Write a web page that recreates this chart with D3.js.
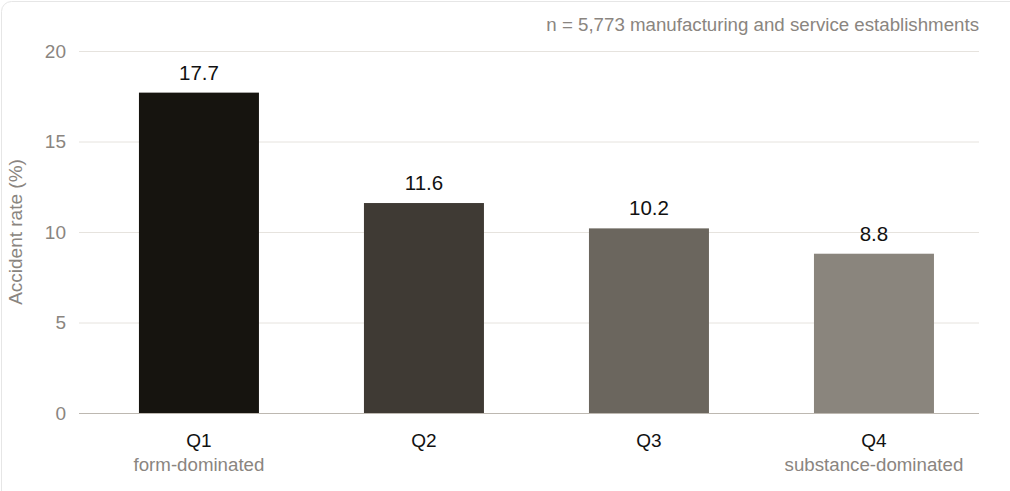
<!DOCTYPE html>
<html>
<head>
    <title>Accident rate by quartile</title>
    <script src="https://d3js.org/d3.v7.min.js"></script>
    <style>
        body { margin: 0; background: #fff; font-family: "Liberation Sans", Arial, sans-serif; }
    </style>
</head>
<body>
    <div id="chart"></div>

    <script>
        const categories = ["Q1", "Q2", "Q3", "Q4"];
        const subLabels = ["form-dominated", "", "", "substance-dominated"];
        const values = [17.7, 11.6, 10.2, 8.8];
        const barColors = ["#16140f", "#3f3a34", "#6b665e", "#8a857d"];
        const yTicks = [0, 5, 10, 15, 20];
        const note = "n = 5,773 manufacturing and service establishments";
        const yTitle = "Accident rate (%)";

        const width = 1010, height = 491;
        const margin = {top: 51, right: 31, bottom: 78, left: 79};

        const svg = d3.select("#chart").append("svg")
            .attr("width", width)
            .attr("height", height);

        // card outline (runs off the right and bottom edges)
        svg.append("rect")
            .attr("x", 1.5).attr("y", 1.5)
            .attr("width", width + 40).attr("height", height + 40)
            .attr("rx", 10)
            .attr("fill", "#fff")
            .attr("stroke", "#e6e6e6");

        const x = d3.scaleBand()
            .domain(categories)
            .range([margin.left, width - margin.right])
            .paddingInner(0.4667)
            .paddingOuter(0.2333)
            .align(0.571);

        const y = d3.scaleLinear()
            .domain([0, 20])
            .range([height - margin.bottom, margin.top]);

        // grid + y tick labels
        const yAxis = svg.append("g")
            .attr("transform", "translate(" + margin.left + ",0)")
            .call(d3.axisLeft(y).tickValues(yTicks)
                .tickSize(-(width - margin.left - margin.right))
                .tickPadding(13));
        yAxis.select(".domain").remove();
        yAxis.selectAll(".tick line")
            .attr("stroke", d => d === 0 ? "#bdb8b1" : "#e6e3de");
        yAxis.selectAll(".tick text")
            .attr("fill", "#8a8580")
            .style("font-size", "19px")
            .style("font-family", "Liberation Sans, Arial, sans-serif");

        svg.selectAll(".bar")
            .data(values)
            .join("rect")
              .attr("class", "bar")
              .attr("x", (d, i) => x(categories[i]))
              .attr("width", x.bandwidth())
              .attr("y", d => y(d))
              .attr("height", d => y(0) - y(d))
              .attr("fill", (d, i) => barColors[i]);

        // baseline on top of bars
        svg.append("line")
            .attr("x1", margin.left).attr("x2", width - margin.right)
            .attr("y1", y(0) + 0.5).attr("y2", y(0) + 0.5)
            .attr("stroke", "#bdb8b1");

        svg.selectAll(".value")
            .data(values)
            .join("text")
              .attr("class", "value")
              .attr("x", (d, i) => x(categories[i]) + x.bandwidth() / 2)
              .attr("y", d => y(d) - 13)
              .attr("text-anchor", "middle")
              .attr("fill", "#111")
              .style("font-size", "20.5px")
              .text(d => d.toFixed(1));

        svg.selectAll(".cat")
            .data(categories)
            .join("text")
              .attr("class", "cat")
              .attr("x", d => x(d) + x.bandwidth() / 2)
              .attr("y", y(0) + 34)
              .attr("text-anchor", "middle")
              .attr("fill", "#111")
              .style("font-size", "19px")
              .text(d => d);

        svg.selectAll(".sub")
            .data(subLabels)
            .join("text")
              .attr("class", "sub")
              .attr("x", (d, i) => x(categories[i]) + x.bandwidth() / 2)
              .attr("y", y(0) + 58)
              .attr("text-anchor", "middle")
              .attr("fill", "#8a8580")
              .style("font-size", "18.7px")
              .text(d => d);

        svg.append("text")
            .attr("x", width - margin.right)
            .attr("y", 31)
            .attr("text-anchor", "end")
            .attr("fill", "#8a8580")
            .style("font-size", "18.7px")
            .text(note);

        svg.append("text")
            .attr("transform", "translate(22," + ((y(0) + y(20)) / 2) + ") rotate(-90)")
            .attr("text-anchor", "middle")
            .attr("fill", "#8a8580")
            .style("font-size", "19px")
            .text(yTitle);
    </script>
</body>
</html>
